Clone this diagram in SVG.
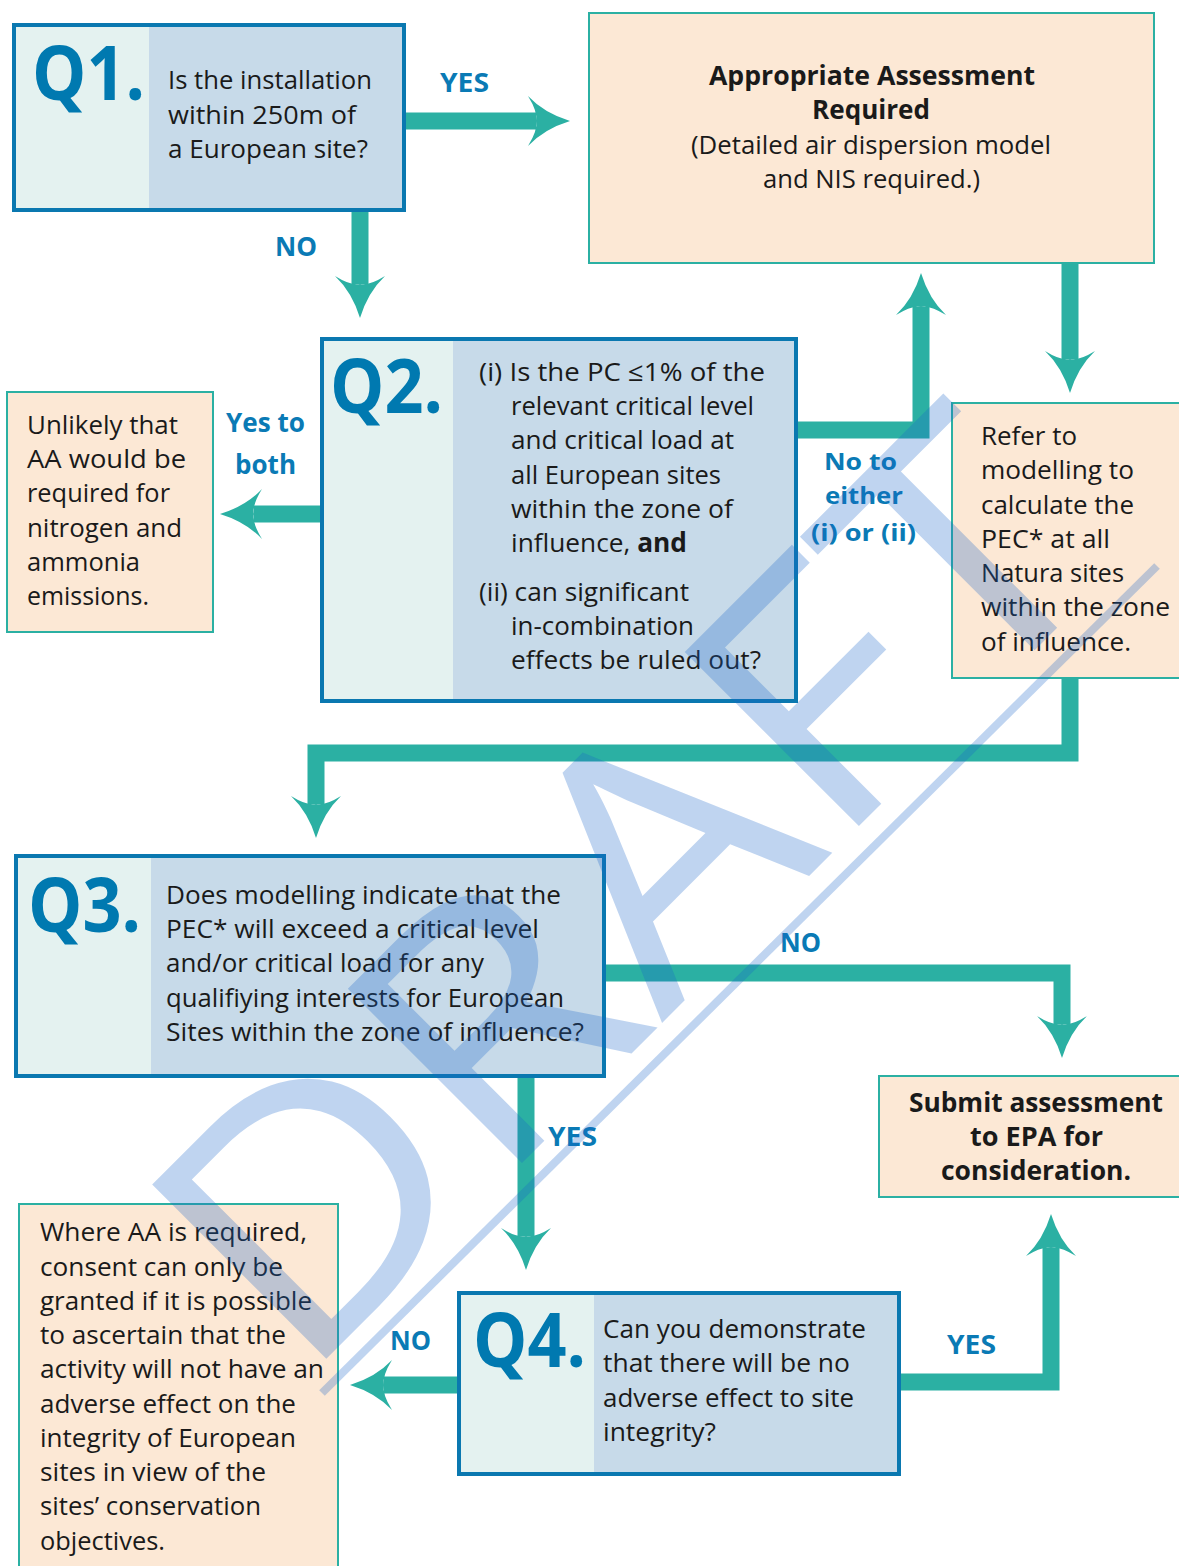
<svg xmlns="http://www.w3.org/2000/svg" width="1179" height="1566" viewBox="0 0 1179 1566">
<defs>
<style>
.ql{fill:#e4f2f0}
.qr{fill:#c7dae9}
.qb{fill:none;stroke:#0a78b0;stroke-width:4}
.qn{font-family:"Open Sans","Liberation Sans",sans-serif;font-weight:700;font-size:76px;fill:#0079b0}
.t{font-family:"Open Sans","Liberation Sans",sans-serif;font-size:26px;fill:#1a1a1a}
.b{font-weight:700}
.lbl{font-family:"Open Sans","Liberation Sans",sans-serif;font-size:26px;font-weight:700;fill:#0a7ab5}
.sm{font-size:24px}
.note{fill:#fce8d5;stroke:#2bb0a3;stroke-width:2}
.conn{fill:none;stroke:#2bb0a3;stroke-width:17;stroke-linejoin:miter;marker-end:url(#ah)}
.wm{font-family:"Open Sans","Liberation Sans",sans-serif;font-size:345px;fill:#1a66c8;fill-opacity:0.28}
</style>
<marker id="ah" markerUnits="userSpaceOnUse" orient="auto" markerWidth="60" markerHeight="60" viewBox="-5 -30 60 60" refX="8" refY="0">
<path d="M42,0 Q16,-8 0,-25 Q10,-9 8,0 Q10,9 0,25 Q16,8 42,0 Z" fill="#2bb0a3"/>
</marker>
</defs>
<rect width="1179" height="1566" fill="#ffffff"/>
<g id="connectors">
<path class="conn" d="M406,121 H536"/>
<path class="conn" d="M360,212 V284"/>
<path class="conn" d="M320,514 H254"/>
<path class="conn" d="M798,430 H921 V307"/>
<path class="conn" d="M1070,264 V359"/>
<path class="conn" d="M1070,679 V753 H316 V804"/>
<path class="conn" d="M606,973 H1062 V1024"/>
<path class="conn" d="M526,1078 V1236"/>
<path class="conn" d="M457,1385 H384"/>
<path class="conn" d="M901,1382 H1051 V1248"/>
</g>
<g id="labels">
<text class="lbl" x="440" y="92" textLength="49" lengthAdjust="spacingAndGlyphs">YES</text>
<text class="lbl" x="275" y="256" textLength="42" lengthAdjust="spacingAndGlyphs">NO</text>
<text class="lbl" x="226" y="432" textLength="79" lengthAdjust="spacingAndGlyphs">Yes to</text>
<text class="lbl" x="235" y="474" textLength="61" lengthAdjust="spacingAndGlyphs">both</text>
<text class="lbl sm" x="824" y="470" textLength="73" lengthAdjust="spacingAndGlyphs">No to</text>
<text class="lbl sm" x="825" y="504" textLength="78" lengthAdjust="spacingAndGlyphs">either</text>
<text class="lbl sm" x="811" y="541" textLength="105" lengthAdjust="spacingAndGlyphs">(i) or (ii)</text>
<text class="lbl" x="780" y="952" textLength="41" lengthAdjust="spacingAndGlyphs">NO</text>
<text class="lbl" x="548" y="1146" textLength="49" lengthAdjust="spacingAndGlyphs">YES</text>
<text class="lbl" x="390" y="1350" textLength="41" lengthAdjust="spacingAndGlyphs">NO</text>
<text class="lbl" x="947" y="1354" textLength="49" lengthAdjust="spacingAndGlyphs">YES</text>
</g>
<g id="q1">
<rect class="ql" x="14" y="25" width="135" height="185"/>
<rect class="qr" x="149" y="25" width="255" height="185"/>
<rect class="qb" x="14" y="25" width="390" height="185"/>
<text class="qn" x="32" y="100" textLength="113" lengthAdjust="spacingAndGlyphs">Q1.</text>
<text class="t" x="168" y="89" textLength="204" lengthAdjust="spacingAndGlyphs">Is the installation</text>
<text class="t" x="168" y="124" textLength="188" lengthAdjust="spacingAndGlyphs">within 250m of</text>
<text class="t" x="168" y="158" textLength="200" lengthAdjust="spacingAndGlyphs">a European site?</text>
</g>
<g id="aa">
<rect class="note" x="589" y="13" width="565" height="250"/>
<text class="t b" x="709" y="85" textLength="326" lengthAdjust="spacingAndGlyphs">Appropriate Assessment</text>
<text class="t b" x="812" y="119" textLength="118" lengthAdjust="spacingAndGlyphs">Required</text>
<text class="t" x="691" y="154" textLength="360" lengthAdjust="spacingAndGlyphs">(Detailed air dispersion model</text>
<text class="t" x="763" y="188" textLength="217" lengthAdjust="spacingAndGlyphs">and NIS required.)</text>
</g>
<g id="q2">
<rect class="ql" x="322" y="339" width="131" height="362"/>
<rect class="qr" x="453" y="339" width="343" height="362"/>
<rect class="qb" x="322" y="339" width="474" height="362"/>
<text class="qn" x="330" y="413" textLength="113" lengthAdjust="spacingAndGlyphs">Q2.</text>
<text class="t" x="479" y="381" textLength="286" lengthAdjust="spacingAndGlyphs">(i) Is the PC ≤1% of the</text>
<text class="t" x="511" y="415" textLength="243" lengthAdjust="spacingAndGlyphs">relevant critical level</text>
<text class="t" x="511" y="449" textLength="223" lengthAdjust="spacingAndGlyphs">and critical load at</text>
<text class="t" x="511" y="484" textLength="210" lengthAdjust="spacingAndGlyphs">all European sites</text>
<text class="t" x="511" y="518" textLength="222" lengthAdjust="spacingAndGlyphs">within the zone of</text>
<text class="t" x="511" y="552" textLength="176" lengthAdjust="spacingAndGlyphs">influence, <tspan class="b">and</tspan></text>
<text class="t" x="479" y="601" textLength="210" lengthAdjust="spacingAndGlyphs">(ii) can significant</text>
<text class="t" x="511" y="635" textLength="183" lengthAdjust="spacingAndGlyphs">in-combination</text>
<text class="t" x="511" y="669" textLength="250" lengthAdjust="spacingAndGlyphs">effects be ruled out?</text>
</g>
<g id="unlikely">
<rect class="note" x="7" y="392" width="206" height="240"/>
<text class="t" x="27" y="434" textLength="151" lengthAdjust="spacingAndGlyphs">Unlikely that</text>
<text class="t" x="27" y="468" textLength="159" lengthAdjust="spacingAndGlyphs">AA would be</text>
<text class="t" x="27" y="502" textLength="143" lengthAdjust="spacingAndGlyphs">required for</text>
<text class="t" x="27" y="537" textLength="155" lengthAdjust="spacingAndGlyphs">nitrogen and</text>
<text class="t" x="27" y="571" textLength="113" lengthAdjust="spacingAndGlyphs">ammonia</text>
<text class="t" x="27" y="605" textLength="122" lengthAdjust="spacingAndGlyphs">emissions.</text>
</g>
<g id="refer">
<rect class="note" x="952" y="403" width="240" height="275"/>
<text class="t" x="981" y="445" textLength="96" lengthAdjust="spacingAndGlyphs">Refer to</text>
<text class="t" x="981" y="479" textLength="153" lengthAdjust="spacingAndGlyphs">modelling to</text>
<text class="t" x="981" y="514" textLength="153" lengthAdjust="spacingAndGlyphs">calculate the</text>
<text class="t" x="981" y="548" textLength="129" lengthAdjust="spacingAndGlyphs">PEC* at all</text>
<text class="t" x="981" y="582" textLength="143" lengthAdjust="spacingAndGlyphs">Natura sites</text>
<text class="t" x="981" y="616" textLength="189" lengthAdjust="spacingAndGlyphs">within the zone</text>
<text class="t" x="981" y="651" textLength="150" lengthAdjust="spacingAndGlyphs">of influence.</text>
</g>
<g id="q3">
<rect class="ql" x="16" y="856" width="135" height="220"/>
<rect class="qr" x="151" y="856" width="453" height="220"/>
<rect class="qb" x="16" y="856" width="588" height="220"/>
<text class="qn" x="28" y="932" textLength="113" lengthAdjust="spacingAndGlyphs">Q3.</text>
<text class="t" x="166" y="904" textLength="395" lengthAdjust="spacingAndGlyphs">Does modelling indicate that the</text>
<text class="t" x="166" y="938" textLength="373" lengthAdjust="spacingAndGlyphs">PEC* will exceed a critical level</text>
<text class="t" x="166" y="972" textLength="318" lengthAdjust="spacingAndGlyphs">and/or critical load for any</text>
<text class="t" x="166" y="1007" textLength="398" lengthAdjust="spacingAndGlyphs">qualifiying interests for European</text>
<text class="t" x="166" y="1041" textLength="418" lengthAdjust="spacingAndGlyphs">Sites within the zone of influence?</text>
</g>
<g id="submit">
<rect class="note" x="879" y="1076" width="310" height="121"/>
<text class="t b" x="909" y="1112" textLength="254" lengthAdjust="spacingAndGlyphs">Submit assessment</text>
<text class="t b" x="970" y="1146" textLength="133" lengthAdjust="spacingAndGlyphs">to EPA for</text>
<text class="t b" x="941" y="1180" textLength="190" lengthAdjust="spacingAndGlyphs">consideration.</text>
</g>
<g id="q4">
<rect class="ql" x="459" y="1293" width="135" height="181"/>
<rect class="qr" x="594" y="1293" width="305" height="181"/>
<rect class="qb" x="459" y="1293" width="440" height="181"/>
<text class="qn" x="473" y="1367" textLength="113" lengthAdjust="spacingAndGlyphs">Q4.</text>
<text class="t" x="603" y="1338" textLength="263" lengthAdjust="spacingAndGlyphs">Can you demonstrate</text>
<text class="t" x="603" y="1372" textLength="247" lengthAdjust="spacingAndGlyphs">that there will be no</text>
<text class="t" x="603" y="1407" textLength="251" lengthAdjust="spacingAndGlyphs">adverse effect to site</text>
<text class="t" x="603" y="1441" textLength="113" lengthAdjust="spacingAndGlyphs">integrity?</text>
</g>
<g id="where">
<rect class="note" x="19" y="1204" width="319" height="370"/>
<text class="t" x="40" y="1241" textLength="267" lengthAdjust="spacingAndGlyphs">Where AA is required,</text>
<text class="t" x="40" y="1276" textLength="243" lengthAdjust="spacingAndGlyphs">consent can only be</text>
<text class="t" x="40" y="1310" textLength="272" lengthAdjust="spacingAndGlyphs">granted if it is possible</text>
<text class="t" x="40" y="1344" textLength="246" lengthAdjust="spacingAndGlyphs">to ascertain that the</text>
<text class="t" x="40" y="1378" textLength="284" lengthAdjust="spacingAndGlyphs">activity will not have an</text>
<text class="t" x="40" y="1413" textLength="256" lengthAdjust="spacingAndGlyphs">adverse effect on the</text>
<text class="t" x="40" y="1447" textLength="256" lengthAdjust="spacingAndGlyphs">integrity of European</text>
<text class="t" x="40" y="1481" textLength="226" lengthAdjust="spacingAndGlyphs">sites in view of the</text>
<text class="t" x="40" y="1515" textLength="221" lengthAdjust="spacingAndGlyphs">sites’ conservation</text>
<text class="t" x="40" y="1550" textLength="125" lengthAdjust="spacingAndGlyphs">objectives.</text>
</g>
<g id="watermark">
<text class="wm" transform="translate(300,1385) rotate(-45)" textLength="1160" lengthAdjust="spacingAndGlyphs">DRAFT</text>
<line x1="322" y1="1393" x2="1157" y2="566" stroke="#1a66c8" stroke-opacity="0.28" stroke-width="8"/>
</g>
</svg>
